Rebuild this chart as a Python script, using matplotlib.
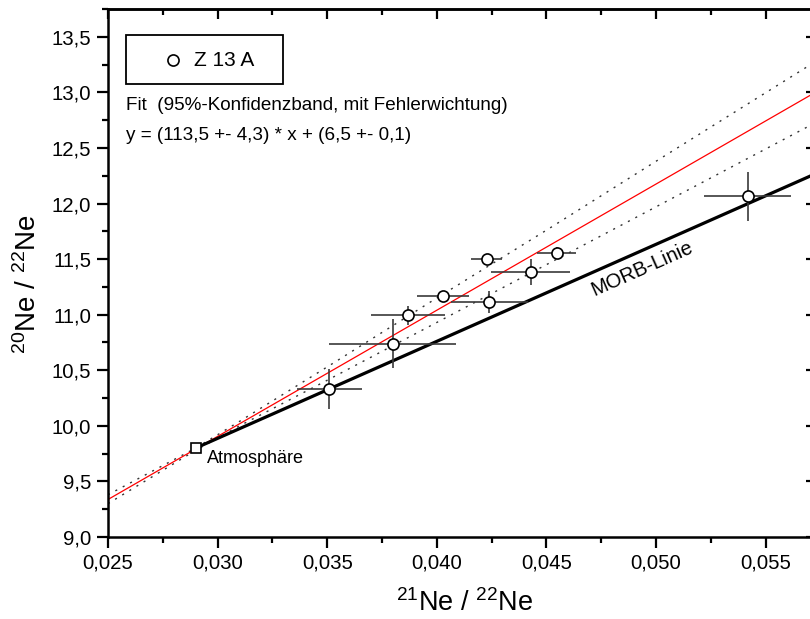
import matplotlib
matplotlib.use('Agg')
from matplotlib import pyplot as plt
from matplotlib.ticker import MultipleLocator, FuncFormatter
from matplotlib.patches import Rectangle

plt.rcParams['font.family'] = ['Liberation Sans', 'DejaVu Sans']
plt.rcParams['mathtext.default'] = 'regular'

# sample Z 13 A
ne21 = [0.03510, 0.03799, 0.03869, 0.04028, 0.04228, 0.04240, 0.04428, 0.04547, 0.05418]
ne20 = [10.33, 10.74, 10.995, 11.165, 11.505, 11.115, 11.385, 11.555, 12.065]
ne21_err = [0.0015, 0.0029, 0.0017, 0.0012, 0.0007, 0.00175, 0.0018, 0.0009, 0.0020]
ne20_err = [0.18, 0.22, 0.087, 0.04, 0.03, 0.10, 0.115, 0.05, 0.22]

atm_x, atm_y = 0.029, 9.80
morb_x = [0.029, 0.0573]
morb_y = [9.80, 12.27]

fit_slope, fit_icpt = 113.5, 6.5
band_x = [0.025, 0.027, 0.029, 0.031, 0.035, 0.040, 0.045, 0.050, 0.0573]
band_upper = [9.38, 9.59, 9.80, 10.04, 10.53, 11.15, 11.76, 12.38, 13.28]
band_lower = [9.30, 9.54, 9.78, 10.00, 10.41, 10.93, 11.45, 11.97, 12.73]

xmin, xmax = 0.025, 0.0573
ymin, ymax = 9.0, 13.75

fig = plt.figure(figsize=(8.1, 6.19), dpi=100)
ax = fig.add_axes([108 / 810, 82 / 619, 708 / 810, 528 / 619])

ax.plot(band_x, band_upper, color='#333333', lw=1.0, ls=(0, (1.5, 4.5)))
ax.plot(band_x, band_lower, color='#333333', lw=1.0, ls=(0, (1.5, 4.5)))
ax.plot([xmin, xmax], [fit_slope * xmin + fit_icpt, fit_slope * xmax + fit_icpt], color='red', lw=0.9)
ax.plot(morb_x, morb_y, color='black', lw=2.3, solid_capstyle='butt')
ax.errorbar(ne21, ne20, xerr=ne21_err, yerr=ne20_err, fmt='o', ms=8, mfc='white', mec='black',
            mew=1.2, ecolor='#3a3a3a', elinewidth=1.2, capsize=0, zorder=5)
ax.plot([atm_x], [atm_y], 's', ms=7.5, mfc='white', mec='black', mew=1.2, zorder=6)

ax.text(0.0295, 9.71, 'Atmosphäre', fontsize=13, va='center', ha='left')
ax.text(0.04936, 11.41, 'MORB-Linie', fontsize=14.5, rotation=24, ha='center', va='center',
        rotation_mode='anchor')

# legend box
ax.add_patch(Rectangle(((126 - 108) / 708, (537 - 84) / 528), 157 / 708, 49 / 528,
                       transform=ax.transAxes, fill=False, ec='black', lw=1.3, zorder=7))
ax.plot([(173 - 108) / 708], [(537 - 60) / 528], 'o', ms=8, mfc='white', mec='black', mew=1.2,
        transform=ax.transAxes, clip_on=False, zorder=8)
ax.text((194 - 108) / 708, (537 - 60) / 528, 'Z 13 A', transform=ax.transAxes, fontsize=15,
        va='center', ha='left')
ax.text((126 - 108) / 708, (537 - 105) / 528, 'Fit  (95%-Konfidenzband, mit Fehlerwichtung)',
        transform=ax.transAxes, fontsize=13.6, va='center', ha='left')
ax.text((126 - 108) / 708, (537 - 136) / 528, 'y = (113,5 +- 4,3) * x + (6,5 +- 0,1)',
        transform=ax.transAxes, fontsize=13.6, va='center', ha='left')

ax.set_xlim(xmin, xmax)
ax.set_ylim(ymin, ymax)
ax.xaxis.set_major_locator(MultipleLocator(0.005))
ax.xaxis.set_minor_locator(MultipleLocator(0.0025))
ax.yaxis.set_major_locator(MultipleLocator(0.5))
ax.yaxis.set_minor_locator(MultipleLocator(0.25))
ax.xaxis.set_major_formatter(FuncFormatter(lambda v, p: f'{v:.3f}'.replace('.', ',')))
ax.yaxis.set_major_formatter(FuncFormatter(lambda v, p: f'{v:.1f}'.replace('.', ',')))
ax.tick_params(which='major', direction='out', length=8, width=1.6, labelsize=14.7, pad=4)
ax.tick_params(which='minor', direction='out', length=4.5, width=1.6)
for s in ax.spines.values():
    s.set_linewidth(1.8)

top = ax.secondary_xaxis('top')
top.xaxis.set_major_locator(MultipleLocator(0.005))
top.xaxis.set_minor_locator(MultipleLocator(0.0025))
top.tick_params(which='major', direction='in', length=7, width=1.6, labeltop=False)
top.tick_params(which='minor', direction='in', length=4, width=1.6)
top.spines['top'].set_linewidth(1.8)
right = ax.secondary_yaxis('right')
right.yaxis.set_major_locator(MultipleLocator(0.5))
right.yaxis.set_minor_locator(MultipleLocator(0.25))
right.tick_params(which='major', direction='in', length=7, width=1.6, labelright=False)
right.tick_params(which='minor', direction='in', length=4, width=1.6)

ax.set_xlabel('$^{21}$Ne / $^{22}$Ne', fontsize=19.5)
ax.set_ylabel('$^{20}$Ne / $^{22}$Ne', fontsize=20)
ax.xaxis.set_label_coords(0.503, -0.098)
ax.yaxis.set_label_coords(-0.093, 0.48)

fig.savefig('out.png', dpi=100)
